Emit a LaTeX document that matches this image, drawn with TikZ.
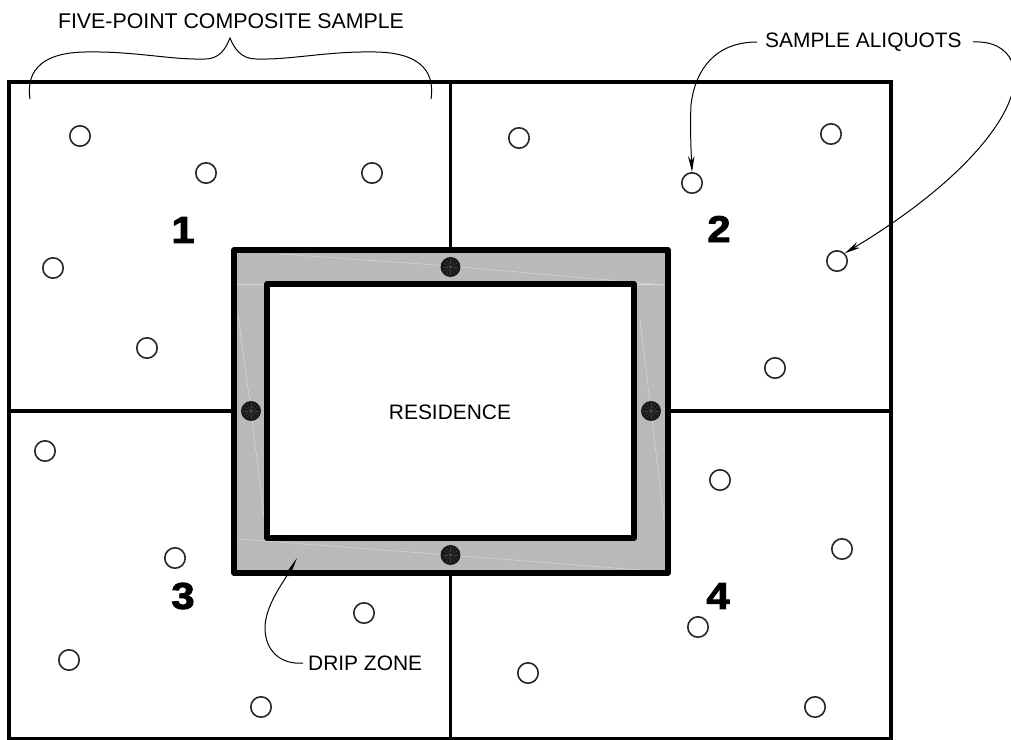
\documentclass[tikz,border=0pt]{standalone}
\usepackage{fontspec}
\setmainfont{Liberation Sans}
\newfontfamily\numfont[FakeBold=2.4,FakeStretch=1.12]{Liberation Sans Bold}
\usetikzlibrary{arrows.meta}
\tikzset{
  wall/.style={line width=3.6pt,line join=miter},
  heavy/.style={line width=5.2pt,line join=round},
  aliquot/.style={circle,draw=black!85,line width=1.6pt,minimum size=20.5pt,inner sep=0pt,fill=white},
  drip/.style={circle,fill=black!90,minimum size=20pt,inner sep=0pt},
  lab/.style={inner sep=0pt,font=\fontsize{21}{24}\selectfont},
  labwide/.style={inner sep=0pt,font=\fontsize{21.4}{24}\selectfont},
  num/.style={inner sep=0pt,font=\fontsize{37.5}{40}\numfont},
  leader/.style={line width=1pt},
  tipped/.style={leader,-{Stealth[length=16pt,width=6.5pt]}},
  seam/.style={line width=0.5pt,black!15}
}
\begin{document}
\begin{tikzpicture}[x=1bp,y=-1bp]
\useasboundingbox (0,0) rectangle (1011,740);
\clip (0,0) rectangle (1011,740);
\fill[white] (0,0) rectangle (1011,740);
% grid
\coordinate (tl) at (9,82); \coordinate (br) at (891,739);
\draw[wall] (tl) rectangle (br);
\draw[wall] (450.5,82) -- (450.5,250);
\draw[wall] (450.5,573) -- (450.5,739);
\draw[wall] (9,411) -- (234,411);
\draw[wall] (668,411) -- (891,411);
% drip zone band
\fill[black!27] (234,250) rectangle (668,573);
\draw[seam] (280,254) -- (450,266) -- (664,285);
\draw[seam] (237,284) -- (267,284);
\draw[seam] (634,284) -- (665,284);
\draw[seam] (238,315) -- (251,411) -- (265,525);
\draw[seam] (640,320) -- (651,411) -- (664,520);
\draw[seam] (237,539) -- (450,555) -- (640,570);
\draw[heavy] (234,250) rectangle (668,573);
\fill[white] (267,284) rectangle (634,538);
\draw[heavy] (267,284) rectangle (634,538);
% drip-zone dots
\foreach \n/\x/\y in {dt/450.5/267, dl/251/411, dr/651/411, db/450.5/555}{
  \node[drip] (\n) at (\x,\y) {};
  \foreach \a in {0,30,...,330}
    \draw[black!75,line width=0.4pt] (\x,\y) ++(\a:3pt) -- ++(\a:5pt);
  \fill[black!75] (\x,\y) circle (2pt);
}
% aliquots
\foreach \n/\x/\y in {a1/80/136,a2/206/173,a3/372/173,a4/53/268,a5/147/348,
  b1/519/138,b2/831/134,b3/692/183,b4/837/261,b5/775/368,
  c1/45/451,c2/175/558,c3/364/613,c4/69/660,c5/261/707,
  d1/720/480,d2/842/549,d3/698/627,d4/528/673,d5/815/707}
  \node[aliquot] (\n) at (\x,\y) {};
% labels
\node[num] (n1) at (183,230) {1};
\node[num] (n2) at (719,229) {2};
\node[num] (n3) at (183,596) {3};
\node[num] (n4) at (718,596) {4};
\node[lab] (res) at (450,412) {RESIDENCE};
\node[lab,anchor=west] (dz) at (308,663) {DRIP ZONE};
\node[lab,anchor=west] (sa) at (765,42) {SAMPLE ALIQUOTS};
\node[labwide] (fp) at (231,21) {FIVE-POINT COMPOSITE SAMPLE};
% brace
\coordinate (bl) at (30,99); \coordinate (bt) at (230,38); \coordinate (brr) at (431,99);
\draw[leader] (bl) .. controls (28,85) and (27,53) .. (85,52)
  .. controls (135,51) and (170,60) .. (205,59)
  .. controls (220,59) and (226,48) .. (bt)
  .. controls (234,48) and (241,59) .. (256,59)
  .. controls (292,60) and (327,51) .. (376,52)
  .. controls (434,53) and (433,85) .. (brr);
% leaders
\coordinate (sl) at (757,42); \coordinate (sr) at (973,42); \coordinate (dzs) at (303,663); \coordinate (dzt) at (297,558);
\draw[tipped] (sl) .. controls (715,42) and (695,70) .. (691,105) .. controls (690,125) and (691,150) .. (b3.north);
\draw[tipped] (sr) .. controls (992,41) and (1006,48) .. (1012,62) .. controls (1028,100) and (975,175) .. (b4.north east);
\draw[leader,-{Stealth[length=20pt,width=5pt]}] (dzs) .. controls (280,665) and (265,650) .. (265,628) .. controls (265,605) and (285,580) .. (dzt);
\end{tikzpicture}
\end{document}
